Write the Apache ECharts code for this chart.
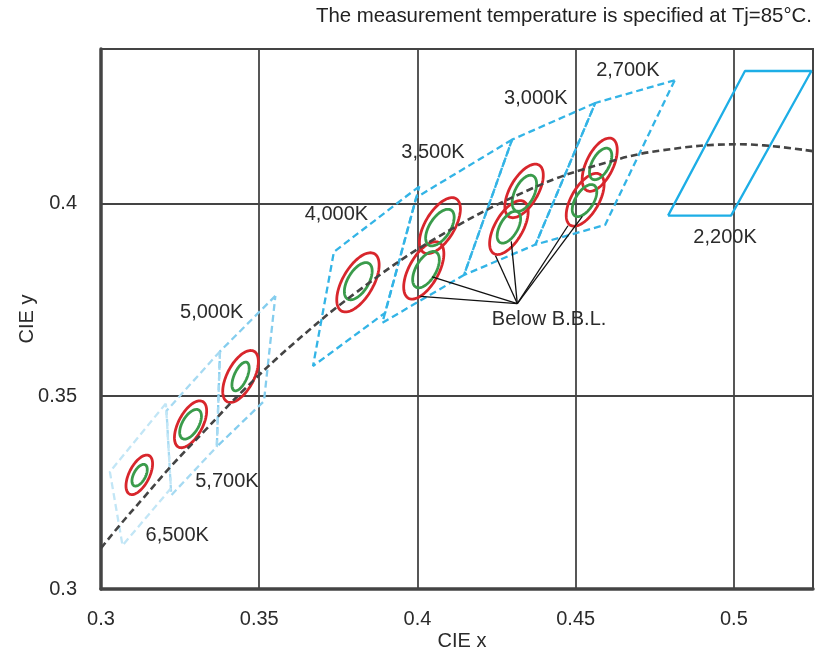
<!DOCTYPE html>
<html><head><meta charset="utf-8">
<script src="https://cdn.jsdelivr.net/npm/echarts@6/dist/echarts.min.js"></script>
<style>html,body{margin:0;padding:0;background:#fff}#c{width:815px;height:656px}</style>
</head><body><div id="c"></div>
<script>
// ---------- data ----------
const titleText = 'The measurement temperature is specified at Tj=85°C.';
const xName = 'CIE x';
const yName = 'CIE y';

// ANSI chromaticity quadrangles (corners, CIE x / y)
const binNames = ['2,700K','3,000K','3,500K','4,000K','5,000K','5,700K','6,500K'];
const binCornersX = [
  [0.4813,0.4562,0.4373,0.4593],
  [0.4562,0.4299,0.4147,0.4373],
  [0.4299,0.3996,0.3889,0.4147],
  [0.4006,0.3736,0.3670,0.3898],
  [0.3551,0.3376,0.3366,0.3515],
  [0.3376,0.3207,0.3222,0.3366],
  [0.3205,0.3028,0.3068,0.3221]
];
const binCornersY = [
  [0.4319,0.4260,0.3893,0.3944],
  [0.4260,0.4165,0.3814,0.3893],
  [0.4165,0.4015,0.3690,0.3814],
  [0.4044,0.3874,0.3578,0.3716],
  [0.3760,0.3616,0.3369,0.3487],
  [0.3616,0.3462,0.3243,0.3369],
  [0.3481,0.3304,0.3113,0.3261]
];
// 2,200K region (solid)
const warmBinX = [0.4792,0.4991,0.5245,0.5035];
const warmBinY = [0.3968,0.3968,0.4343,0.4343];

// black body locus
const locusX = [0.3000,0.3063,0.3135,0.3221,0.3325,0.3451,0.3608,0.3805,0.4053,0.4369,0.4599,0.4770,0.5018,0.5250];
const locusY = [0.3106,0.3169,0.3237,0.3318,0.3408,0.3516,0.3636,0.3768,0.3907,0.4041,0.4106,0.4137,0.4153,0.4135];

// ellipses: 6500, 5700, 5000, 4000, 3500, 3500 below, 3000, 3000 below, 2700, 2700 below
// centre (CIE x / y), semi-axes (in CIE-y units), tilt (degrees on the chart)
const redX    = [0.3121,0.3283,0.3441,0.3812,0.4071,0.4020,0.4337,0.4289,0.4576,0.4530];
const redY    = [0.3296,0.3427,0.3551,0.3795,0.3942,0.3826,0.4032,0.3937,0.4100,0.4009];
const redA    = [0.00559,0.00668,0.00740,0.00856,0.00815,0.00823,0.00774,0.00779,0.00748,0.00763];
const redB    = [0.00262,0.00312,0.00345,0.00398,0.00380,0.00383,0.00362,0.00362,0.00350,0.00357];
const redTilt = [63,62,62,60,59,61,60,60,64,60];

const greenX    = [0.3122,0.3283,0.3441,0.3813,0.4071,0.4027,0.4338,0.4289,0.4579,0.4528];
const greenY    = [0.3295,0.3427,0.3551,0.3798,0.3937,0.3828,0.4026,0.3938,0.4102,0.4007];
const greenA    = [0.00308,0.00427,0.00401,0.00538,0.00538,0.00523,0.00505,0.00458,0.00448,0.00468];
const greenB    = [0.00154,0.00213,0.00167,0.00269,0.00269,0.00261,0.00252,0.00230,0.00225,0.00235];
const greenTilt = [62,60,66,59,57,60,64,60,62,58];

// "Below B.B.L." leader lines
const leaderApex = [0.43155,0.3740];
const leaderX = [0.40465,0.40095,0.42468,0.42965,0.44756,0.45212];
const leaderY = [0.38091,0.37589,0.38642,0.39012,0.39418,0.39659];

// text annotations (centre of text, CIE x / y)
const noteText = ['2,700K','3,000K','3,500K','4,000K','5,000K','5,700K','6,500K','2,200K','Below B.B.L.'];
const noteX = [0.4665,0.4374,0.4049,0.3744,0.3350,0.3398,0.3241,0.4972,0.4416];
const noteY = [0.4345,0.4273,0.4133,0.3970,0.3716,0.3280,0.3140,0.3911,0.3700];

// ---------- styles ----------
const FONT = "'Liberation Sans', Arial, Helvetica, sans-serif";
const binColors = ['#33b4e6','#33b4e6','#33b4e6','#33b4e6','#84cdee','#a6daf2','#c2e6f6'];

function closedPath(xs, ys){ const d = xs.map((x,i)=>[x,ys[i]]); d.push([xs[0],ys[0]]); return d; }

function ellipseSeries(X,Y,A,B,T,color,z){
  return {
    type:'custom', coordinateSystem:'cartesian2d', silent:true, z:z,
    data: X.map((x,i)=>[x,Y[i],A[i],B[i],T[i]]),
    encode:{x:0,y:1},
    renderItem(params, api){
      const c = api.coord([api.value(0), api.value(1)]);
      const unit = api.size([1,1])[1];            // pixels per CIE-y unit
      const a = api.value(2)*unit, b = api.value(3)*unit, t = api.value(4)*Math.PI/180;
      const pts=[];
      for(let k=0;k<96;k++){
        const u=k/96*2*Math.PI, dx=a*Math.cos(u), dy=b*Math.sin(u);
        pts.push([c[0]+dx*Math.cos(t)-dy*Math.sin(t), c[1]-(dx*Math.sin(t)+dy*Math.cos(t))]);
      }
      return {type:'polygon', shape:{points:pts}, style:{fill:'none', stroke:color, lineWidth:2.8}};
    }
  };
}

const series = [];
binNames.forEach((n,i)=>{
  series.push({type:'line', name:n, data: closedPath(binCornersX[i], binCornersY[i]), symbol:'none', silent:true, z:2,
    lineStyle:{color:binColors[i], width:2.3, type:[7,4]}});
});
series.push({type:'line', name:'2,200K', data: closedPath(warmBinX, warmBinY), symbol:'none', silent:true, z:2,
  lineStyle:{color:'#1daee6', width:2.3, type:'solid'}});
series.push(ellipseSeries(redX,redY,redA,redB,redTilt,'#d8262c',4));
series.push(ellipseSeries(greenX,greenY,greenA,greenB,greenTilt,'#3a9b4b',5));
series.push({type:'line', name:'BBL', data: locusX.map((x,i)=>[x,locusY[i]]), symbol:'none', smooth:0.4, silent:true, z:6,
  lineStyle:{color:'#444', width:2.6, type:[7,4]}});
series.push({
  type:'custom', coordinateSystem:'cartesian2d', silent:true, z:7,
  data: leaderX.map((x,i)=>[x,leaderY[i]]), encode:{x:0,y:1},
  renderItem(params, api){
    const p0 = api.coord(leaderApex), p1 = api.coord([api.value(0), api.value(1)]);
    return {type:'line', shape:{x1:p0[0],y1:p0[1],x2:p1[0],y2:p1[1]}, style:{stroke:'#111', lineWidth:1.3}};
  }
});
series.push({
  type:'scatter', silent:true, z:8, symbolSize:1, itemStyle:{color:'transparent', opacity:1},
  data: noteText.map((t,i)=>({name:t, value:[noteX[i], noteY[i]]})),
  label:{show:true, position:'inside', formatter:'{b}', fontSize:20, color:'#2b2b2b', fontFamily:FONT, opacity:1}
});

const fmt = v => String(parseFloat(v.toFixed(3)));
const chart = echarts.init(document.getElementById('c'));
chart.setOption({
  animation:false,
  backgroundColor:'#fff',
  textStyle:{fontFamily:FONT},
  graphic:[{type:'text', right:3, top:6, style:{text:titleText, fontSize:20.4, fill:'#222', fontFamily:FONT}}],
  grid:{left:101, right:2, top:49, bottom:66, show:true, borderColor:'#444', borderWidth:2, backgroundColor:'transparent'},
  xAxis:{type:'value', min:0.3, max:0.525, interval:0.05,
    name:xName, nameLocation:'middle', nameGap:42, nameMoveOverlap:false, nameTextStyle:{fontSize:20, color:'#2b2b2b', padding:[0,0,0,10]},
    axisLine:{show:true, lineStyle:{color:'#444', width:3.5}}, axisTick:{show:false},
    axisLabel:{fontSize:20, color:'#2b2b2b', margin:20, showMaxLabel:false, formatter:fmt},
    splitLine:{show:true, lineStyle:{color:'#444', width:1.8}}},
  yAxis:{type:'value', min:0.3, max:0.44, interval:0.05,
    name:yName, nameLocation:'middle', nameGap:64, nameMoveOverlap:false, nameTextStyle:{fontSize:20, color:'#2b2b2b'},
    axisLine:{show:true, lineStyle:{color:'#444', width:3.5}}, axisTick:{show:false},
    axisLabel:{fontSize:20, color:'#2b2b2b', margin:24, showMaxLabel:false, formatter:fmt},
    splitLine:{show:true, lineStyle:{color:'#444', width:1.8}}},
  series: series
});
</script></body></html>
